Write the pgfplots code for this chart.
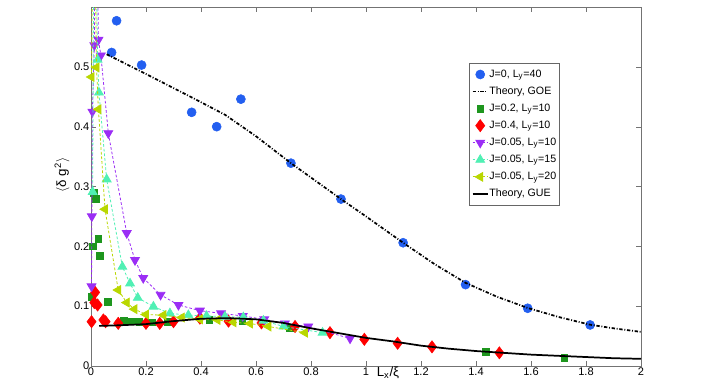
\documentclass[border=0pt]{standalone}
\usepackage{fontspec}
\setmainfont{Liberation Sans}
\usepackage{pgfplots}
\pgfplotsset{compat=1.18}
\pgfplotsset{leg/.style={legend image code/.code={\draw[mark repeat=2,mark phase=2,##1] plot coordinates {(0cm,0cm) (0.2cm,0cm) (0.4cm,0cm)};}}}
\definecolor{cblue}{RGB}{35,95,240}
\definecolor{cgreen}{RGB}{30,150,30}
\definecolor{cred}{RGB}{255,0,0}
\definecolor{cpurple}{RGB}{155,45,245}
\definecolor{ccyan}{RGB}{80,240,180}
\definecolor{cyel}{RGB}{185,215,0}
\begin{document}
\begin{tikzpicture}
\path[use as bounding box] (-68.25pt,-15pt) rectangle (462.75pt,274.5pt);
\begin{axis}[
    scale only axis,
    width=412.5pt, height=269.25pt,
    xmin=0, xmax=2, ymin=0, ymax=0.6,
    xtick={0,0.2,...,2.01}, ytick={0,0.1,...,0.51},
    tick align=inside, major tick length=3.5pt,
    tick style={black!55},
    axis line style={black!55},
    font=\fontsize{8.3}{9}\selectfont,
    /pgf/number format/assume math mode=true,
    xticklabel style={inner sep=1pt},
    yticklabel style={inner sep=1pt},
    xlabel={L\textsubscript{x}/ξ},
    xlabel style={at={(axis description cs:0.54,0)}, anchor=north, inner sep=0.5pt, font=\fontsize{10}{11}\selectfont},
    ylabel={$\langle$δ g\textsuperscript{2}$\rangle$},
    ylabel style={at={(axis description cs:-0.0527,0.532)}, anchor=center, font=\fontsize{10}{11}\selectfont},
    clip mode=individual,
    legend cell align=left,
    legend style={at={(0.687,0.844)}, anchor=north west, draw=black!60, fill=white,
        font=\fontsize{8}{9}\selectfont, inner xsep=2pt, inner ysep=2pt,
        nodes={inner sep=0.5pt, text height=8pt, text depth=3.8pt}},
  ]
  % J=0, Ly=40
  \addplot[only marks, mark=*, color=cblue, mark options={fill=cblue}, mark size=3.4pt, leg] coordinates {
    (0.093,0.577) (0.075,0.524) (0.184,0.503) (0.366,0.424) (0.457,0.400)
    (0.545,0.446) (0.727,0.339) (0.909,0.279) (1.135,0.206) (1.362,0.136)
    (1.588,0.0965) (1.815,0.0686)
  };
  \addlegendentry{J=0, L\textsubscript{y}=40}
  % Theory GOE
  \addplot[black, line width=1.3pt, dash pattern=on 2.5pt off 1.3pt on 0.7pt off 1.3pt, leg] coordinates {
    (0.057,0.521) (0.2,0.488) (0.366,0.449) (0.487,0.420) (0.6,0.384)
    (0.727,0.339) (0.909,0.279) (1.0,0.250) (1.135,0.206) (1.25,0.170)
    (1.362,0.139) (1.475,0.116) (1.588,0.097) (1.7,0.082) (1.815,0.069)
    (1.9,0.063) (2.0,0.057)
  };
  \addlegendentry{Theory, GOE}
  % J=0.2, Ly=10
  \addplot[only marks, mark=square*, color=cgreen, mark options={fill=cgreen}, mark size=2.5pt, leg] coordinates {
    (0.002,0.116) (0.006,0.200) (0.011,0.290) (0.017,0.279) (0.027,0.213)
    (0.033,0.184) (0.061,0.1075) (0.118,0.076) (0.148,0.075) (0.176,0.074)
    (0.22,0.073) (0.28,0.074) (0.43,0.077) (0.55,0.076) (0.724,0.064)
    (1.436,0.024) (1.721,0.014)
  };
  \addlegendentry{J=0.2, L\textsubscript{y}=10}
  % J=0.4, Ly=10
  \addplot[only marks, mark=diamond*, color=cred, mark options={fill=cred}, mark size=4.6pt, leg] coordinates {
    (0.002,0.074) (0.012,0.106) (0.015,0.123) (0.024,0.102) (0.045,0.077)
    (0.053,0.074) (0.099,0.0713) (0.2,0.0713) (0.25,0.0713) (0.3,0.074)
    (0.396,0.080) (0.5,0.075) (0.62,0.072) (0.742,0.066) (0.869,0.0557)
    (0.994,0.0446) (1.115,0.038) (1.24,0.032) (1.485,0.022)
  };
  \addlegendentry{J=0.4, L\textsubscript{y}=10}
  % J=0.05, Ly=10
  \addplot[cpurple, line width=0.6pt, dash pattern=on 2pt off 1.5pt, mark=triangle*, mark size=3.8pt,
    mark options={solid, fill=cpurple, rotate=180}, leg] coordinates {
    (0.002,0.133) (0.003,0.250) (0.005,0.425) (0.012,0.536) (0.018,0.90)
    (0.027,0.545) (0.036,0.519) (0.063,0.389) (0.13,0.222) (0.16,0.177)
    (0.19,0.147) (0.253,0.119) (0.318,0.102) (0.396,0.0925) (0.473,0.088)
    (0.552,0.0836) (0.63,0.078) (0.705,0.071) (0.79,0.066) (0.942,0.046)
  };
  \addlegendentry{J=0.05, L\textsubscript{y}=10}
  % J=0.05, Ly=15
  \addplot[ccyan, line width=0.6pt, dash pattern=on 2pt off 1.5pt, mark=triangle*, mark size=3.8pt,
    mark options={solid, fill=ccyan}, leg] coordinates {
    (0.006,0.291) (0.012,0.90) (0.024,0.512) (0.029,0.457) (0.057,0.312)
    (0.114,0.166) (0.142,0.138) (0.17,0.114) (0.227,0.0993) (0.287,0.088)
    (0.354,0.085) (0.42,0.0836) (0.487,0.0825) (0.554,0.0814) (0.627,0.0758)
    (0.7,0.066) (0.842,0.0557)
  };
  \addlegendentry{J=0.05, L\textsubscript{y}=15}
  % J=0.05, Ly=20
  \addplot[cyel, line width=0.6pt, dash pattern=on 2pt off 1.5pt, mark=triangle*, mark size=3.8pt,
    mark options={solid, fill=cyel, rotate=90}, leg] coordinates {
    (0.002,0.483) (0.010,0.90) (0.020,0.499) (0.027,0.429) (0.051,0.262)
    (0.099,0.127) (0.13,0.106) (0.158,0.095) (0.2,0.086) (0.263,0.085)
    (0.33,0.081) (0.396,0.078) (0.46,0.077) (0.518,0.073) (0.578,0.071)
    (0.645,0.066) (0.778,0.0557)
  };
  \addlegendentry{J=0.05, L\textsubscript{y}=20}
  % Theory GUE
  \addplot[black, line width=1.3pt, leg] coordinates {
    (0.03,0.067) (0.1,0.068) (0.2,0.070) (0.3,0.075) (0.4,0.079) (0.5,0.080)
    (0.6,0.078) (0.7,0.072) (0.8,0.063) (0.9,0.055) (1.0,0.047) (1.1,0.041)
    (1.2,0.034) (1.3,0.029) (1.4,0.025) (1.5,0.022) (1.6,0.019) (1.7,0.017)
    (1.8,0.015) (1.9,0.013) (2.0,0.012)
  };
  \addlegendentry{Theory, GUE}
\end{axis}
\end{tikzpicture}
\end{document}
